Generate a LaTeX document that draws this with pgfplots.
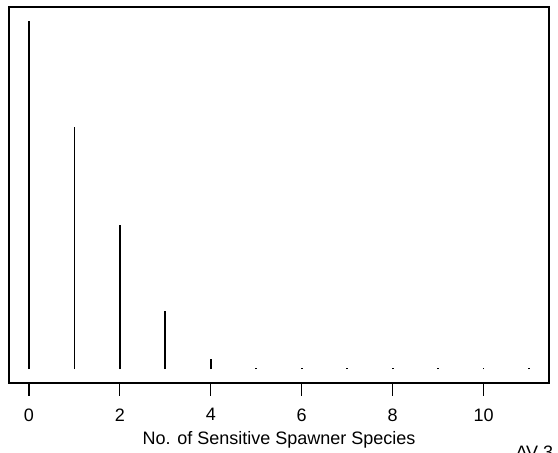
\documentclass[border=0pt]{standalone}
\usepackage{fontspec}
\setmainfont{Liberation Sans}
\usepackage{pgfplots}
\pgfplotsset{compat=1.18}
\begin{document}
\begin{tikzpicture}[x=1pt,y=1pt]
\useasboundingbox (0,0) rectangle (558,453);
\begin{axis}[
  at={(9pt,70pt)}, anchor=south west,
  width=540pt, height=376pt, scale only axis,
  xmin=-0.44, xmax=11.44, ymin=-4, ymax=104,
  axis line style={line width=1.3pt},
  ytick=\empty,
  xtick={0,2,4,6,8,10},
  xtick pos=bottom, tick align=outside,
  major tick length=13pt,
  tick style={line width=1.1pt, black},
  /pgf/number format/assume math mode=true,
  xticklabel style={font=\fontsize{18}{21}\selectfont, yshift=-9pt},
  xlabel={No. of Sensitive Spawner Species},
  xlabel style={font=\fontsize{18}{21}\selectfont, yshift=-3pt},
]
\addplot[ycomb, line width=1.9pt, black] coordinates {
(0,100) (1,69.4) (2,41.4) (3,16.8) (4,2.8) (5,0.45) (6,0.45) (7,0.45) (8,0.45) (9,0.45) (10,0.45) (11,0.45)
};
\end{axis}
\node[overlay, anchor=base west, font=\fontsize{18}{21}\selectfont] at (512,-6) {AV 3};
\end{tikzpicture}
\end{document}
